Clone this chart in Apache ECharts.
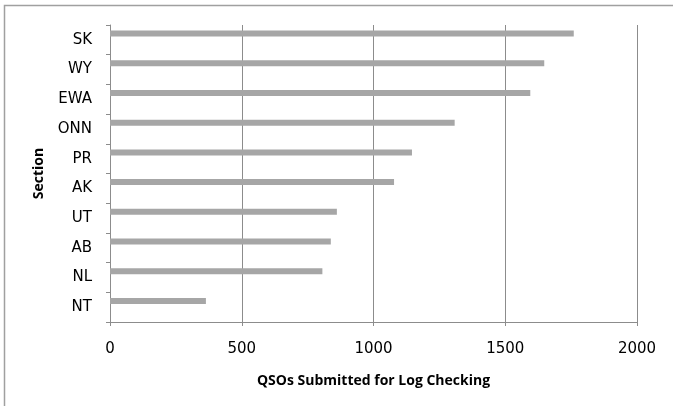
<!DOCTYPE html>
<html>
<head>
<meta charset="utf-8">
<script src="https://cdn.jsdelivr.net/npm/echarts@6/dist/echarts.min.js"></script>
<style>html,body{margin:0;padding:0;background:#fff;}#c{width:673px;height:406px;}</style>
</head>
<body>
<div id="c"></div>
<script>
var categories = ['SK','WY','EWA','ONN','PR','AK','UT','AB','NL','NT'];
var qsos = [1760, 1648, 1595, 1308, 1146, 1078, 861, 838, 806, 364];
var xTicks = { min: 0, max: 2000, interval: 500 };

var chart = echarts.init(document.getElementById('c'), null, {renderer: 'canvas'});
var font = '"DejaVu Sans", sans-serif';
var titleFont = '"Open Sans", sans-serif';
chart.setOption({
  animation: false,
  backgroundColor: '#fff',
  graphic: [{
    type: 'rect', silent: true,
    shape: { x: 4.5, y: 5.5, width: 700, height: 420 },
    style: { fill: null, stroke: '#a0a0a0', lineWidth: 1.5 }
  }],
  grid: { left: 110, right: 36, top: 25, bottom: 84 },
  xAxis: {
    type: 'value', min: xTicks.min, max: xTicks.max, interval: xTicks.interval,
    name: 'QSOs Submitted for Log Checking', nameLocation: 'middle', nameGap: 52,
    nameTextStyle: { fontFamily: titleFont, fontSize: 14, fontWeight: 'bold', color: '#000' },
    axisLine: { show: true, lineStyle: { color: '#8c8c8c', width: 1 } },
    axisTick: { show: true, length: 4, lineStyle: { color: '#8c8c8c' } },
    axisLabel: { fontFamily: font, fontSize: 15, color: '#000', margin: 20,
      formatter: function (v) { return String(v); } },
    splitLine: { show: true, lineStyle: { color: '#8c8c8c', width: 1 } }
  },
  yAxis: {
    type: 'category', data: categories, inverse: true,
    name: 'Section', nameLocation: 'middle', nameGap: 64,
    nameTextStyle: { fontFamily: titleFont, fontSize: 14, fontWeight: 'bold', color: '#000' },
    axisLine: { show: true, lineStyle: { color: '#8c8c8c', width: 1 } },
    axisTick: { show: true, length: 4, lineStyle: { color: '#8c8c8c' } },
    axisLabel: { fontFamily: font, fontSize: 15, color: '#000', margin: 18 },
    splitLine: { show: false }
  },
  series: [{
    type: 'bar', data: qsos, barWidth: 6, barGap: '108%',
    itemStyle: { color: '#a6a6a6' }
  }, {
    type: 'bar', data: categories.map(function(){ return null; }), barWidth: 6
  }]
});
</script>
</body>
</html>
